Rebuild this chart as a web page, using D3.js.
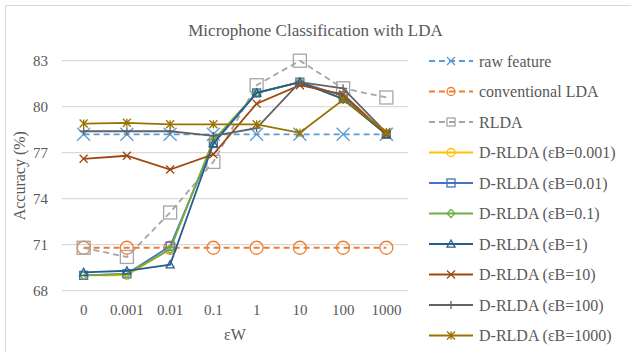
<!DOCTYPE html>
<html>
<head>
<meta charset="utf-8">
<script src="https://cdn.jsdelivr.net/npm/d3@7"></script>
<style>
  html, body { margin: 0; padding: 0; background: #fff; }
  svg { display: block; }
  svg text { font-family: "Liberation Serif", "Times New Roman", Times, "DejaVu Serif", "Noto Serif", serif !important; fill: #595959 !important; }
</style>
</head>
<body>
<svg id="chart" width="631" height="352"></svg>
<script>
const categories = ["0", "0.001", "0.01", "0.1", "1", "10", "100", "1000"];
const yTicks = [68, 71, 74, 77, 80, 83];

const rawFeature   = [78.2, 78.2, 78.2, 78.2, 78.2, 78.2, 78.2, 78.2];
const convLDA      = [70.8, 70.8, 70.8, 70.8, 70.8, 70.8, 70.8, 70.8];
const rlda         = [70.8, 70.2, 73.1, 76.4, 81.4, 83.0, 81.2, 80.6];
const dEB0001      = [69.0, 69.0, 70.7, 77.8, 80.9, 81.6, 80.5, 78.2];
const dEB001       = [69.0, 69.1, 70.9, 77.6, 80.9, 81.6, 80.7, 78.2];
const dEB01        = [69.0, 69.1, 70.7, 77.8, 80.9, 81.6, 80.5, 78.2];
const dEB1         = [69.2, 69.3, 69.7, 77.6, 80.9, 81.6, 80.5, 78.2];
const dEB10        = [76.6, 76.8, 75.9, 76.9, 80.2, 81.4, 80.8, 78.2];
const dEB100       = [78.4, 78.4, 78.4, 78.1, 78.6, 81.6, 81.2, 78.3];
const dEB1000      = [78.9, 78.95, 78.85, 78.85, 78.85, 78.3, 80.45, 78.35];

const seriesNames = ["raw feature", "conventional LDA", "RLDA",
  "D-RLDA (εB=0.001)", "D-RLDA (εB=0.01)", "D-RLDA (εB=0.1)", "D-RLDA (εB=1)",
  "D-RLDA (εB=10)", "D-RLDA (εB=100)", "D-RLDA (εB=1000)"];
const seriesValues = [rawFeature, convLDA, rlda, dEB0001, dEB001, dEB01, dEB1, dEB10, dEB100, dEB1000];
const seriesColors = ["#5B9BD5", "#ED7D31", "#A5A5A5", "#FFC000", "#4472C4", "#70AD47",
  "#255E91", "#9E480E", "#636363", "#997300"];
const seriesMarkers = ["x", "circle", "square", "circle", "square", "diamond", "triangle", "x", "plus", "star"];
const seriesDashed = [true, true, true, false, false, false, false, false, false, false];
const seriesBig = [true, true, true, false, false, false, false, false, false, false];

const svg = d3.select("#chart");
const W = 631, H = 352;
const plot = { left: 62, right: 408, top: 60.7, bottom: 290.7 };

// chart border
svg.append("rect").attr("x", 5.5).attr("y", 5.5).attr("width", W + 10).attr("height", H + 10)
  .attr("fill", "none").attr("stroke", "#D9D9D9").attr("stroke-width", 1);

const x = d3.scaleBand().domain(categories).range([plot.left, plot.right]);
const y = d3.scaleLinear().domain([68, 83]).range([plot.bottom, plot.top]);
const cx = c => x(c) + x.bandwidth() / 2;

// grid lines
svg.append("g").selectAll("line").data(yTicks).join("line")
  .attr("x1", plot.left).attr("x2", plot.right)
  .attr("y1", d => y(d)).attr("y2", d => y(d))
  .attr("stroke", "#D9D9D9").attr("stroke-width", 1.3);

// y axis labels
const yAxis = d3.axisLeft(y).tickValues(yTicks).tickSize(0).tickPadding(14);
const gy = svg.append("g").attr("transform", `translate(${plot.left},0)`).call(yAxis);
gy.attr("font-family", null);
gy.select(".domain").remove();
gy.selectAll("text").attr("font-size", 15);

// x axis labels
const xAxis = d3.axisBottom(x).tickSize(0).tickPadding(14);
const gx = svg.append("g").attr("transform", `translate(0,${plot.bottom})`).call(xAxis);
gx.attr("font-family", null);
gx.select(".domain").remove();
gx.selectAll("text").attr("font-size", 15);

// title
svg.append("text").attr("x", W / 2).attr("y", 36)
  .attr("text-anchor", "middle").attr("font-size", 17).text("Microphone Classification with LDA");

// axis titles
svg.append("text").attr("x", (plot.left + plot.right) / 2).attr("y", 340)
  .attr("text-anchor", "middle").attr("font-size", 16).text("εW");
svg.append("text").attr("transform", `translate(25,${(plot.top + plot.bottom) / 2}) rotate(-90)`)
  .attr("text-anchor", "middle").attr("font-size", 16).text("Accuracy (%)");

function drawMarker(g, type, px, py, size, color) {
  const h = size / 2;
  const common = sel => sel.attr("stroke", color).attr("stroke-width", 1.3).attr("fill", "none");
  if (type === "x") {
    common(g.append("path").attr("d", `M${px - h},${py - h}L${px + h},${py + h}M${px - h},${py + h}L${px + h},${py - h}`));
  } else if (type === "circle") {
    common(g.append("circle").attr("cx", px).attr("cy", py).attr("r", h));
  } else if (type === "square") {
    common(g.append("rect").attr("x", px - h).attr("y", py - h).attr("width", size).attr("height", size));
  } else if (type === "diamond") {
    common(g.append("path").attr("d", `M${px},${py - h}L${px + h},${py}L${px},${py + h}L${px - h},${py}Z`));
  } else if (type === "triangle") {
    common(g.append("path").attr("d", `M${px},${py - h}L${px + h},${py + h * 0.8}L${px - h},${py + h * 0.8}Z`));
  } else if (type === "plus") {
    common(g.append("path").attr("d", `M${px - h},${py}L${px + h},${py}M${px},${py - h}L${px},${py + h}`));
  } else if (type === "star") {
    common(g.append("path").attr("d", `M${px - h},${py - h}L${px + h},${py + h}M${px - h},${py + h}L${px + h},${py - h}M${px},${py - h}L${px},${py + h}`));
  }
}

const line = d3.line().x((d, i) => cx(categories[i])).y(d => y(d));

// draw series
seriesValues.forEach((vals, si) => {
  const g = svg.append("g");
  g.append("path").datum(vals).attr("d", line)
    .attr("fill", "none").attr("stroke", seriesColors[si])
    .attr("stroke-width", 1.8)
    .attr("stroke-dasharray", seriesDashed[si] ? "6,4" : null);
  vals.forEach((v, i) => {
    drawMarker(g, seriesMarkers[si], cx(categories[i]), y(v), seriesBig[si] ? 13 : 8, seriesColors[si]);
  });
});

// legend
const legendX = 429, legendY0 = 61, legendStep = 30.5;
seriesNames.forEach((name, si) => {
  const g = svg.append("g");
  const ly = legendY0 + si * legendStep;
  g.append("line").attr("x1", legendX).attr("x2", legendX + 44).attr("y1", ly).attr("y2", ly)
    .attr("stroke", seriesColors[si]).attr("stroke-width", 1.8)
    .attr("stroke-dasharray", seriesDashed[si] ? "6,4" : null);
  drawMarker(g, seriesMarkers[si], legendX + 22, ly, 8, seriesColors[si]);
  g.append("text").attr("x", legendX + 50).attr("y", ly + 5.5).attr("font-size", 16).text(name);
});
</script>
</body>
</html>
